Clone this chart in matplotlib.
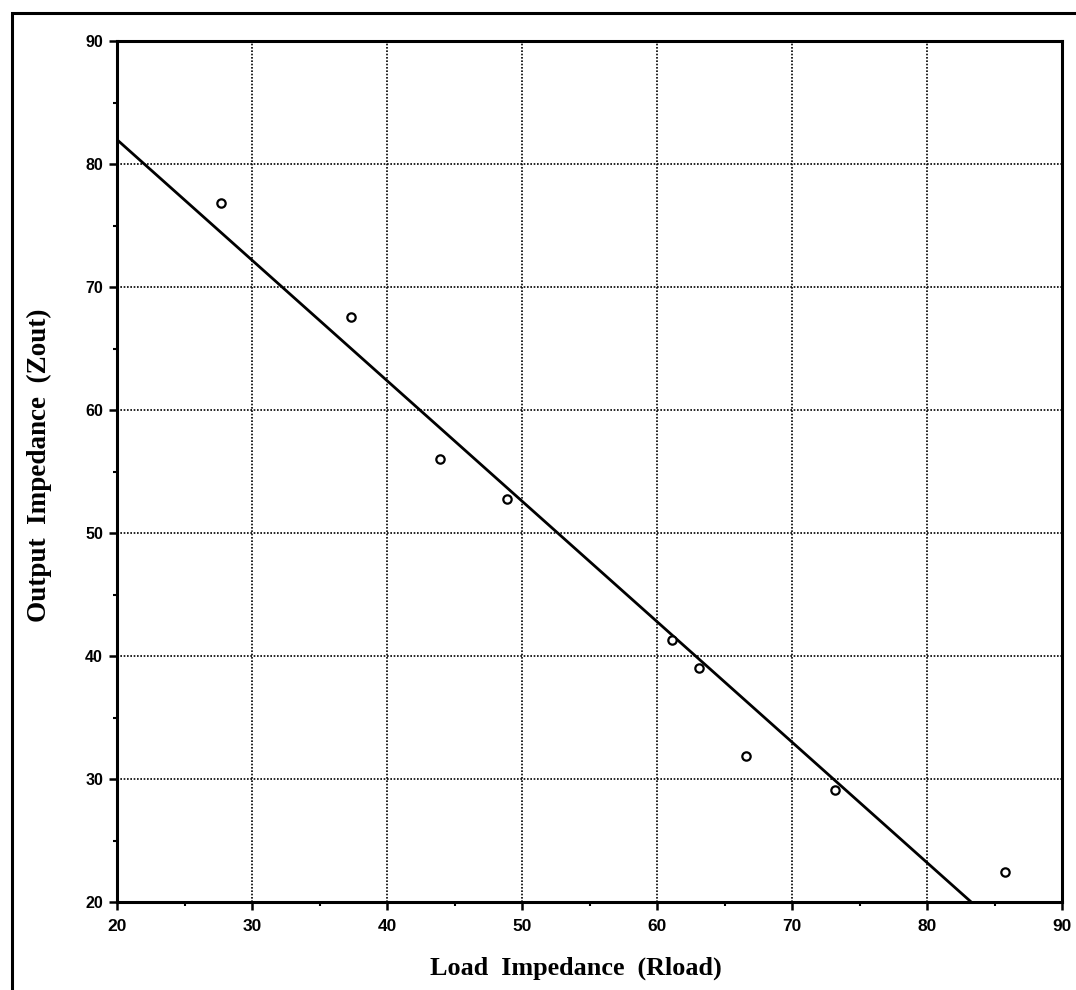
import numpy as np
import matplotlib
matplotlib.use("Agg")
import matplotlib.pyplot as plt
from matplotlib.patches import Rectangle
from matplotlib.ticker import MultipleLocator

rload = [27.7, 37.3, 43.9, 48.9, 61.1, 63.1, 66.6, 73.2, 85.8]
zout = [76.8, 67.6, 56.0, 52.8, 41.3, 39.0, 31.9, 29.1, 22.4]
xticks = [20, 30, 40, 50, 60, 70, 80, 90]
yticks = [20, 30, 40, 50, 60, 70, 80, 90]

W, H = 1076, 990
fig = plt.figure(figsize=(W/100, H/100), dpi=100)
ax = fig.add_axes([117/W, 1-902/H, (1062-117)/W, (902-41)/H])

# least squares line over the points
k, b = np.polyfit(rload, zout, 1)
xl = np.array([20, 90])
ax.plot(xl, k*xl+b, '-k', linewidth=2.0)
ax.plot(rload, zout, 'o', markerfacecolor='white', markeredgecolor='black',
        markersize=6, markeredgewidth=1.6)

ax.set_xlim(20, 90)
ax.set_ylim(20, 90)
ax.set_xticks(xticks)
ax.set_yticks(yticks)
ax.xaxis.set_minor_locator(MultipleLocator(5))
ax.yaxis.set_minor_locator(MultipleLocator(5))
ax.grid(True, which='major', color='black', linestyle=(0, (1, 1)), linewidth=1.2)
ax.set_axisbelow(True)
for sp in ax.spines.values():
    sp.set_linewidth(2.2)
ax.tick_params(which='major', direction='out', length=6, width=1.8, pad=6)
ax.tick_params(which='minor', direction='out', length=3, width=1.5)
ax.tick_params(axis='x', labelsize=12.5)
ax.tick_params(axis='y', labelsize=11.5, pad=4)
for lab in ax.get_xticklabels() + ax.get_yticklabels():
    lab.set_family('Liberation Sans')
    lab.set_fontweight('bold')

fig.text(576/W, 1-968/H, "Load  Impedance  (Rload)", ha='center', va='center',
         family='Liberation Serif', fontweight='bold', fontsize=18.8)
fig.text(39/W, 1-465/H, "Output  Impedance  (Zout)", ha='center', va='center', rotation=90,
         family='Liberation Serif', fontweight='bold', fontsize=19.5)

# outer frame of the scanned page
fig.patches.append(Rectangle((12/W, -0.1), 1.2, 1.1-13/H, transform=fig.transFigure,
                             fill=False, edgecolor='black', linewidth=2.2))

plt.savefig("out.png", dpi=100)
